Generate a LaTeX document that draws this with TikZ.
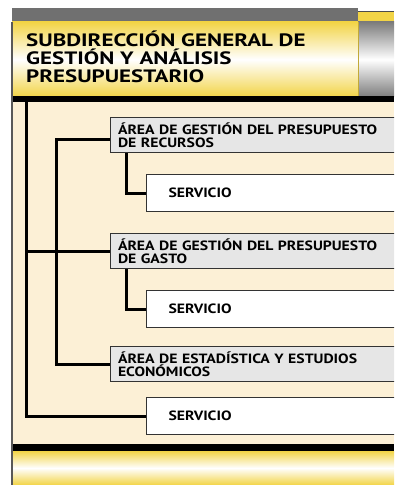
\documentclass[tikz,border=0pt]{standalone}
\usepackage{fontspec}
\setmainfont{PT Sans}
\newfontfamily\titulofont[FakeStretch=1.28]{PT Sans}
\newfontfamily\cajafont[FakeStretch=1.17]{PT Sans}
\usetikzlibrary{positioning}

\definecolor{crema}{HTML}{FCF0D6}
\definecolor{amarillo}{HTML}{F2D446}
\definecolor{grisbarra}{HTML}{707070}
\definecolor{grisarea}{HTML}{E6E6E6}
\definecolor{gristubo}{HTML}{7C7C7C}

\tikzset{
	area/.style={fill=grisarea, draw=black!80, line width=1bp, anchor=north west, minimum width=300bp, minimum height=35bp, text width=285bp, inner xsep=7bp, inner ysep=0pt, align=left, font=\cajafont\fontsize{13.5}{13}\selectfont\bfseries},
	servicio/.style={fill=white, draw=black!80, line width=1bp, anchor=north west, minimum width=260bp, minimum height=37bp, text width=230bp, inner xsep=22bp, align=left, font=\cajafont\fontsize{13.5}{13}\selectfont\bfseries},
	conn/.style={draw=black, line width=3bp}
}

\begin{document}
\begin{tikzpicture}[x=1bp, y=-1bp]
	\useasboundingbox (0,0) rectangle (394,485);
	\clip (0,0) rectangle (394,485);
	% cabecera
	\fill [grisbarra] (12,8) rectangle (358,22);
	\fill [amarillo] (358,12) rectangle (394,22);
	\draw [black!70, line width=1bp] (358,11.5) -- (394,11.5);
	\shade [top color=amarillo, bottom color=amarillo, middle color=white] (12,22) rectangle (358,97);
	\shade [top color=gristubo, bottom color=gristubo, middle color=white] (358,22) rectangle (394,97);
	\draw [amarillo!80!black, line width=0.8bp] (358,22) -- (358,97);
	\fill [crema] (12,97) rectangle (394,446);
	\fill [black] (12,96) rectangle (394,102);
	\fill [black] (12,444) rectangle (394,451);
	\shade [top color=amarillo, bottom color=amarillo, middle color=white] (12,451) rectangle (394,485);
	\draw [black!65, line width=1.5bp] (12,22) -- (12,485);
	\node [anchor=north west, inner sep=0pt, align=left, font=\titulofont\fontsize{18}{18}\selectfont\bfseries] (titulo) at (26,31) {SUBDIRECCIÓN GENERAL DE\\GESTIÓN Y ANÁLISIS\\PRESUPUESTARIO};
	% areas y servicios
	\node [area] (a1) at (110,117) {ÁREA DE GESTIÓN DEL PRESUPUESTO\\DE RECURSOS};
	\node [servicio] (s1) at (146,174) {SERVICIO};
	\node [area] (a2) at (110,233) {ÁREA DE GESTIÓN DEL PRESUPUESTO\\DE GASTO};
	\node [servicio] (s2) at (146,290) {SERVICIO};
	\node [area] (a3) at (110,346) {ÁREA DE ESTADÍSTICA Y ESTUDIOS\\ECONÓMICOS};
	\node [servicio] (s3) at (146,397) {SERVICIO};
	\coordinate (tronco) at (26,101);
	% conectores
	\draw [conn] (tronco) |- (s3.west);
	\draw [conn] (a2.west) -- (a2.west -| tronco);
	\draw [conn] ([yshift=-5bp]a1.west) -- ++(-54,0) |- (a3.west);
	\draw [conn] ([xshift=16bp]a1.south west) |- (s1.west);
	\draw [conn] ([xshift=16bp]a2.south west) |- (s2.west);
\end{tikzpicture}
\end{document}
